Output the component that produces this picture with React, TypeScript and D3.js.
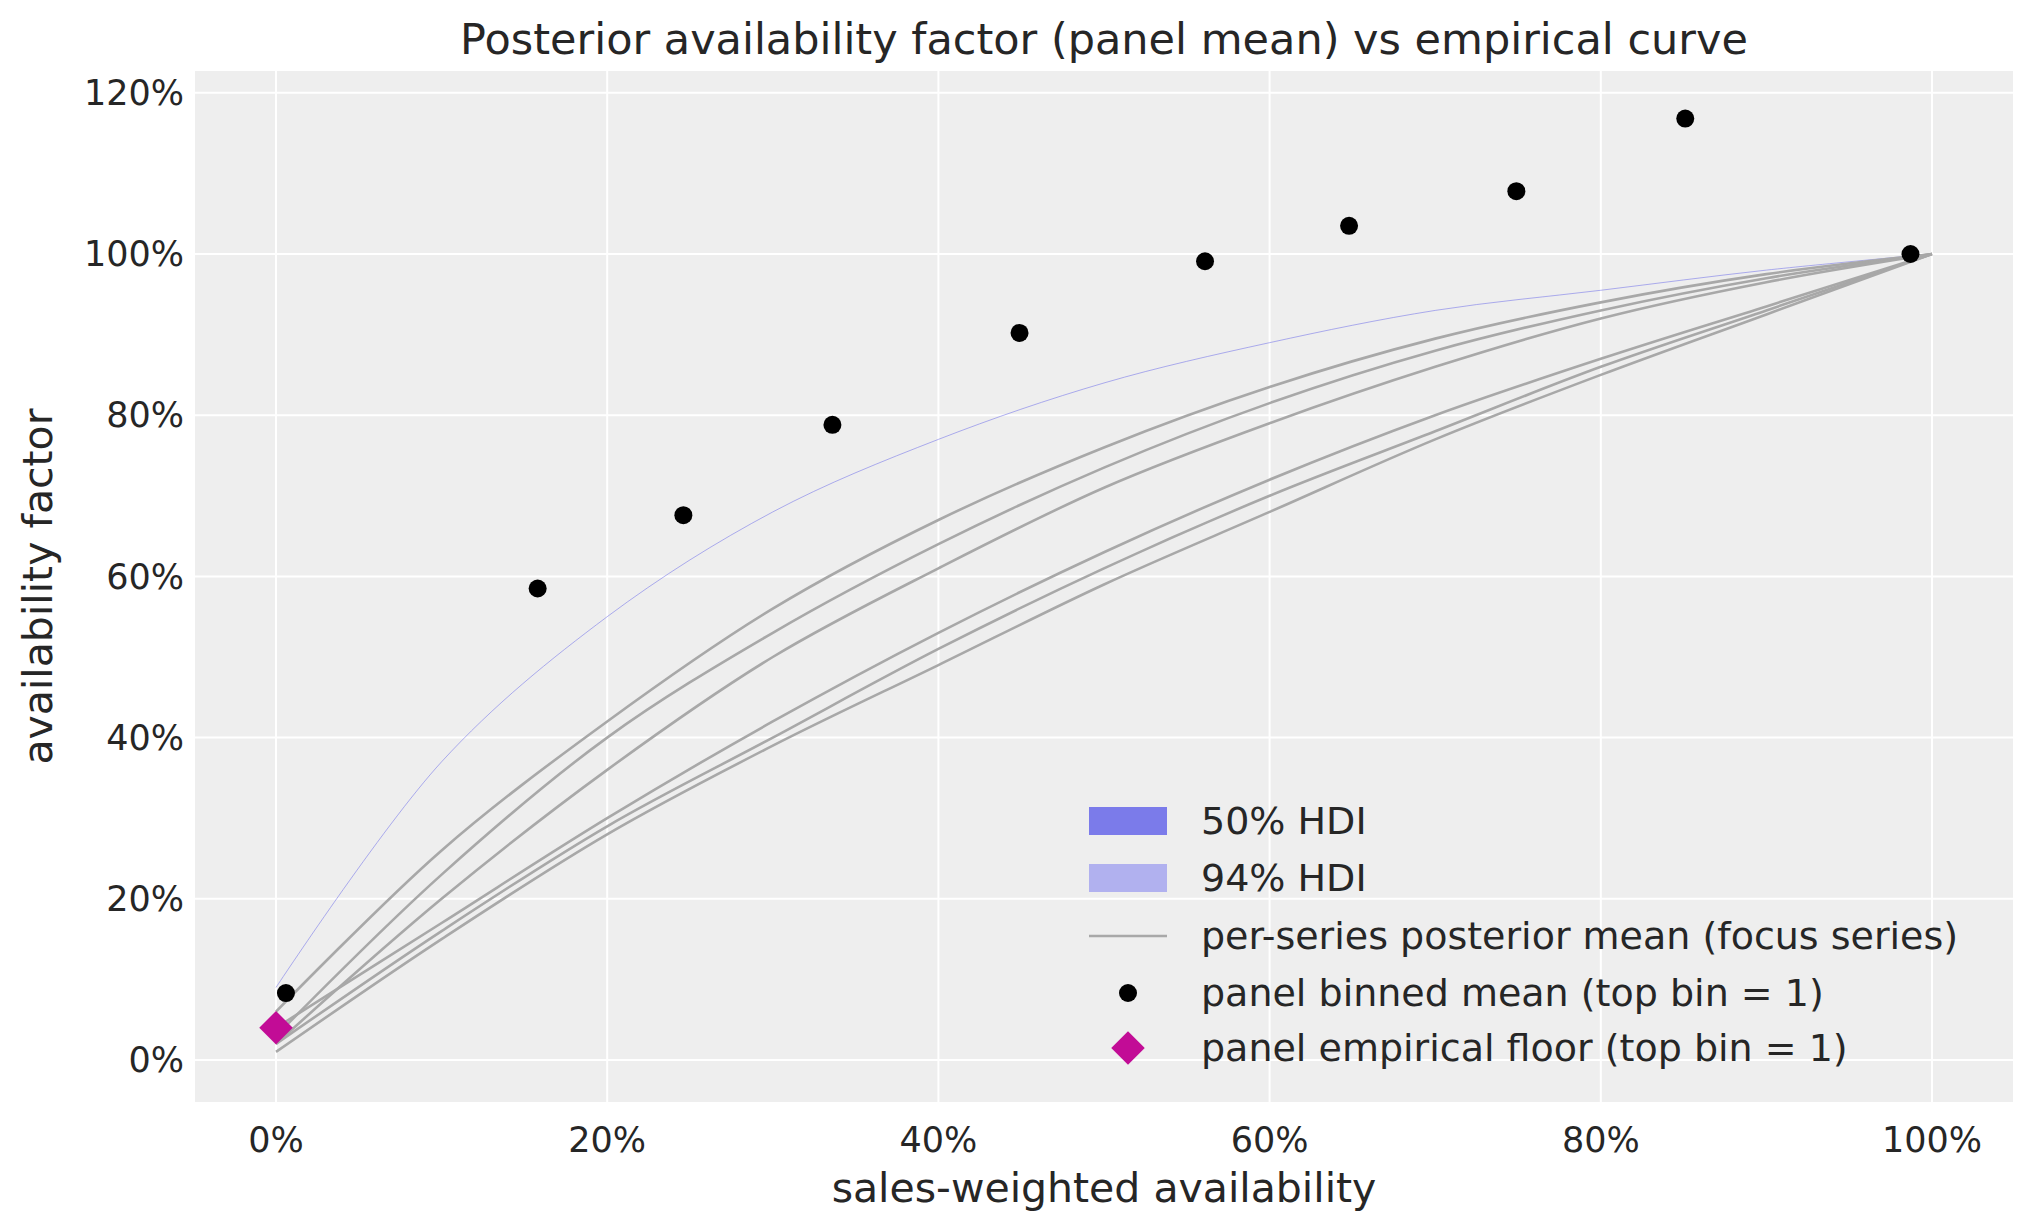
import * as d3 from "d3";
import React from "react";

const xs = [0, 0.1, 0.2, 0.3, 0.4, 0.5, 0.6, 0.7, 0.8, 0.9, 1];
const hdiEdge = [0.09, 0.37, 0.55, 0.68, 0.77, 0.84, 0.89, 0.93, 0.955, 0.98, 1];
const seriesMeans = [
  [0.06, 0.26, 0.42, 0.56, 0.67, 0.76, 0.835, 0.895, 0.94, 0.975, 1],
  [0.03, 0.23, 0.4, 0.53, 0.64, 0.735, 0.815, 0.88, 0.93, 0.97, 1],
  [0.02, 0.2, 0.36, 0.5, 0.61, 0.71, 0.79, 0.86, 0.92, 0.965, 1],
  [0.04, 0.17, 0.3, 0.42, 0.53, 0.63, 0.72, 0.8, 0.87, 0.935, 1],
  [0.02, 0.16, 0.29, 0.4, 0.51, 0.61, 0.7, 0.78, 0.86, 0.93, 1],
  [0.01, 0.15, 0.28, 0.39, 0.49, 0.59, 0.68, 0.77, 0.85, 0.925, 1],
];
const binX = [0.006, 0.158, 0.246, 0.336, 0.449, 0.561, 0.648, 0.749, 0.851, 0.987];
const binY = [0.083, 0.585, 0.676, 0.788, 0.902, 0.991, 1.035, 1.078, 1.168, 1.0];
const floorPoint = [0, 0.04];
const xTicks = [0, 0.2, 0.4, 0.6, 0.8, 1];
const yTicks = [0, 0.2, 0.4, 0.6, 0.8, 1, 1.2];
const legendLabels = [
  "50% HDI",
  "94% HDI",
  "per-series posterior mean (focus series)",
  "panel binned mean (top bin = 1)",
  "panel empirical floor (top bin = 1)",
];

const W = 2023;
const H = 1223;
const m = { left: 195, right: 2013, top: 71, bottom: 1102 };
const font = "DejaVu Sans, sans-serif";
const txt = "#262626";

export default function App() {
  const x = d3.scaleLinear().domain([0, 1]).range([276, 1932]);
  const y = d3.scaleLinear().domain([0, 1]).range([1060, 254]);
  const pct = d3.format(".0%");
  const line = d3
    .line<number>()
    .x((_, i) => x(xs[i]))
    .y((v) => y(v))
    .curve(d3.curveCatmullRom.alpha(0.5));
  const diamond = d3.symbol(d3.symbolSquare, 560)();
  const legY = [821, 878, 936, 993, 1048];

  return (
    <svg width={W} height={H} style={{ display: "block", margin: -8 }} fontFamily={font}>
      <rect width={W} height={H} fill="#fff" />
      <rect x={m.left} y={m.top} width={m.right - m.left} height={m.bottom - m.top} fill="#eeeeee" />
      {xTicks.map((t) => (
        <line key={"gx" + t} x1={x(t)} x2={x(t)} y1={m.top} y2={m.bottom} stroke="#fff" strokeWidth={2} />
      ))}
      {yTicks.map((t) => (
        <line key={"gy" + t} x1={m.left} x2={m.right} y1={y(t)} y2={y(t)} stroke="#fff" strokeWidth={2} />
      ))}
      {xTicks.map((t) => (
        <text key={"tx" + t} x={x(t)} y={1152} textAnchor="middle" fontSize={35} fill={txt}>
          {pct(t)}
        </text>
      ))}
      {yTicks.map((t) => (
        <text key={"ty" + t} x={184} y={y(t)} dy="0.35em" textAnchor="end" fontSize={35} fill={txt}>
          {pct(t)}
        </text>
      ))}
      <text x={(m.left + m.right) / 2} y={54} textAnchor="middle" fontSize={43} fill={txt}>
        Posterior availability factor (panel mean) vs empirical curve
      </text>
      <text x={1104} y={1202} textAnchor="middle" fontSize={41} fill={txt}>
        sales-weighted availability
      </text>
      <text transform={`translate(52,${(m.top + m.bottom) / 2}) rotate(-90)`} textAnchor="middle" fontSize={41} fill={txt}>
        availability factor
      </text>
      <path d={line(hdiEdge) || ""} fill="none" stroke="#7b7bea" strokeOpacity={0.6} strokeWidth={1} />
      {seriesMeans.map((s, i) => (
        <path key={"s" + i} d={line(s) || ""} fill="none" stroke="#a8a8a8" strokeWidth={2.6} />
      ))}
      {binX.map((v, i) => (
        <circle key={"b" + i} cx={x(v)} cy={y(binY[i])} r={9} fill="#000" />
      ))}
      <path d={diamond} transform={`translate(${x(floorPoint[0])},${y(floorPoint[1])}) rotate(45)`} fill="#c20c96" />
      {/* legend */}
      <rect x={1089} y={legY[0] - 14} width={78} height={28} fill="#7b7bea" />
      <rect x={1089} y={legY[1] - 14} width={78} height={28} fill="#b1b1ef" />
      <line x1={1089} x2={1167} y1={legY[2]} y2={legY[2]} stroke="#a8a8a8" strokeWidth={2.6} />
      <circle cx={1128} cy={legY[3]} r={9} fill="#000" />
      <path d={diamond} transform={`translate(1128,${legY[4]}) rotate(45)`} fill="#c20c96" />
      {legendLabels.map((l, i) => (
        <text key={l} x={1201} y={legY[i]} dy="0.35em" fontSize={38} fill={txt}>
          {l}
        </text>
      ))}
    </svg>
  );
}
